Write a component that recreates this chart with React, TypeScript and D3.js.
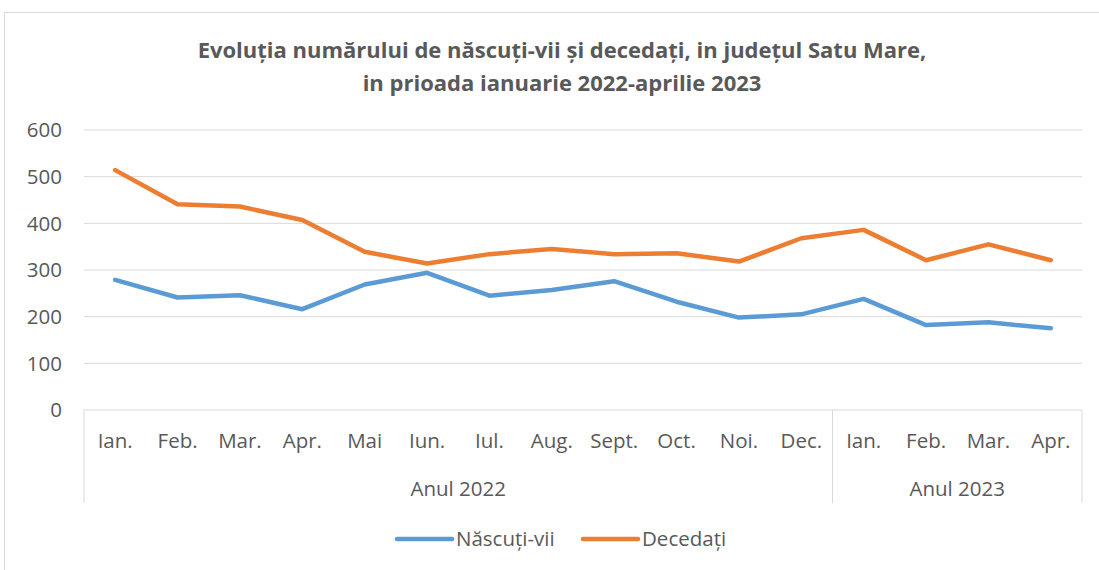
import React, { useEffect, useRef } from "react";
import * as d3 from "d3";

const months = ["Ian.", "Feb.", "Mar.", "Apr.", "Mai", "Iun.", "Iul.", "Aug.", "Sept.", "Oct.", "Noi.", "Dec.", "Ian.", "Feb.", "Mar.", "Apr."];
const years = [
  { label: "Anul 2022", count: 12 },
  { label: "Anul 2023", count: 4 },
];
const nascuti = [279, 241, 246, 216, 269, 294, 245, 257, 276, 232, 198, 205, 238, 182, 188, 175];
const decedati = [514, 441, 436, 407, 339, 314, 334, 345, 334, 336, 318, 368, 386, 321, 355, 321];
const yTicks = [0, 100, 200, 300, 400, 500, 600];
const titleLines = [
  "Evoluția numărului de născuți-vii și decedați, in județul Satu Mare,",
  "in prioada ianuarie 2022-aprilie 2023",
];
const seriesNames = ["Născuți-vii", "Decedați"];
const colors = ["#5B9BD5", "#ED7D31"];

export default function App() {
  const ref = useRef<SVGSVGElement>(null);
  useEffect(() => {
    const svg = d3.select(ref.current);
    svg.selectAll("*").remove();
    const font = "Open Sans, Liberation Sans, sans-serif";
    const textColor = "#595959";
    const left = 84, right = 1082, top = 130, bottom = 410;
    const fs = 20.5;

    svg.append("rect").attr("x", 4.5).attr("y", 12.5).attr("width", 1200).attr("height", 700)
      .attr("fill", "white").attr("stroke", "#d9d9d9").attr("stroke-width", 1);

    titleLines.forEach((t, i) => {
      svg.append("text").attr("x", 562).attr("y", 58 + i * 33).attr("text-anchor", "middle")
        .attr("font-family", font).attr("font-weight", "bold").attr("font-size", 22)
        .attr("fill", textColor).text(t);
    });

    const idx = months.map((_, i) => i);
    const x = d3.scaleBand<number>().domain(idx).range([left, right]);
    const y = d3.scaleLinear().domain([0, 600]).range([bottom, top]);

    yTicks.forEach((t) => {
      if (t > 0) {
        svg.append("line").attr("x1", left).attr("x2", right).attr("y1", y(t)).attr("y2", y(t))
          .attr("stroke", "#d9d9d9").attr("stroke-width", 1);
      }
      svg.append("text").attr("x", 62).attr("y", y(t)).attr("dy", "0.35em").attr("text-anchor", "end")
        .attr("font-family", font).attr("font-size", fs).attr("fill", textColor).text(t);
    });

    // category axis
    svg.append("line").attr("x1", left).attr("x2", right).attr("y1", bottom).attr("y2", bottom)
      .attr("stroke", "#d9d9d9").attr("stroke-width", 1);
    months.forEach((m, i) => {
      svg.append("text").attr("x", (x(i) as number) + x.bandwidth() / 2).attr("y", 441).attr("dy", "0.35em")
        .attr("text-anchor", "middle").attr("font-family", font).attr("font-size", fs)
        .attr("fill", textColor).text(m);
    });
    let start = 0;
    const bounds = [left];
    years.forEach((yr) => {
      const x0 = x(start) as number;
      const x1 = (x(start + yr.count - 1) as number) + x.bandwidth();
      bounds.push(x1);
      svg.append("text").attr("x", (x0 + x1) / 2).attr("y", 489).attr("dy", "0.35em").attr("text-anchor", "middle")
        .attr("font-family", font).attr("font-size", fs).attr("fill", textColor).text(yr.label);
      start += yr.count;
    });
    bounds.forEach((bx) => {
      svg.append("line").attr("x1", bx).attr("x2", bx).attr("y1", bottom).attr("y2", 503)
        .attr("stroke", "#d9d9d9").attr("stroke-width", 1);
    });

    const line = d3.line<number>()
      .x((_, i) => (x(i) as number) + x.bandwidth() / 2)
      .y((d) => y(d));
    [nascuti, decedati].forEach((s, k) => {
      svg.append("path").attr("d", line(s) as string).attr("fill", "none")
        .attr("stroke", colors[k]).attr("stroke-width", 4.5)
        .attr("stroke-linejoin", "round").attr("stroke-linecap", "round");
    });

    // legend
    const legendX = [397, 583];
    seriesNames.forEach((n, k) => {
      svg.append("line").attr("x1", legendX[k]).attr("x2", legendX[k] + 55).attr("y1", 539).attr("y2", 539)
        .attr("stroke", colors[k]).attr("stroke-width", 4.5).attr("stroke-linecap", "round");
      svg.append("text").attr("x", legendX[k] + 59).attr("y", 539).attr("dy", "0.35em")
        .attr("font-family", font).attr("font-size", fs).attr("fill", textColor).text(n);
    });
  }, []);
  return (
    <svg ref={ref} width={1099} height={570}
      style={{ position: "absolute", left: 0, top: 0, display: "block", background: "white" }} />
  );
}
